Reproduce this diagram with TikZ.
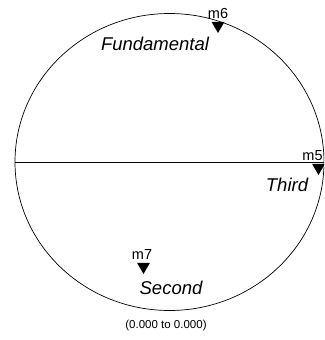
\documentclass[tikz,border=0pt]{standalone}
\usepackage{fontspec}
\setmainfont{Liberation Sans}
\usetikzlibrary{shapes.geometric}
\begin{document}
\begin{tikzpicture}[x=1pt,y=-1pt,
  marker/.style={fill=black,draw=none,regular polygon,regular polygon sides=3,shape border rotate=180,minimum size=15pt,inner sep=0pt},
  mlabel/.style={font=\fontsize{14.5}{16}\selectfont,inner sep=0pt},
  trace/.style={font=\fontsize{18.5}{20}\selectfont\itshape,inner sep=0pt},
  caption/.style={font=\fontsize{11.5}{13}\selectfont,inner sep=0pt}]
\useasboundingbox (0,0) rectangle (324,340);
\begin{scope}
\clip (0,0) rectangle (324,340);
\draw[line width=0.7pt] (169.5,162) ellipse [x radius=154.5, y radius=148.5];
\coordinate (L) at (15,162.5);
\coordinate (R) at (324,162.5);
\draw[line width=0.7pt] (L) -- (R);
\node[marker] (t6) at (218,25.5) {};
\node[mlabel] (m6) at (218,14) {m6};
\node[marker] (t5) at (318.5,167.5) {};
\node[mlabel] (m5) at (312.5,156) {m5};
\node[marker] (t7) at (143.5,266.5) {};
\node[mlabel] (m7) at (142,255) {m7};
\node[trace] (fund) at (155,44) {Fundamental};
\node[trace] (third) at (287,185) {Third};
\node[trace] (second) at (171,287.5) {Second};
\node[caption] (cap) at (166,325.5) {(0.000 to 0.000)};
\end{scope}
\end{tikzpicture}
\end{document}
